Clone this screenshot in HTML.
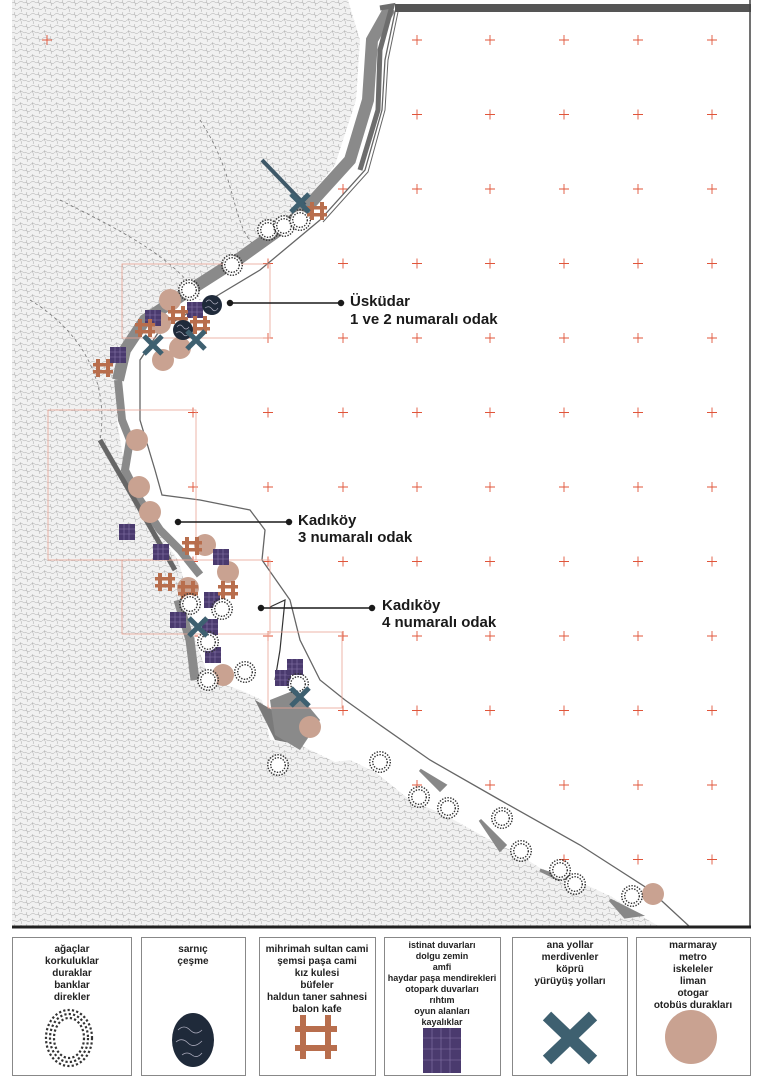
<!DOCTYPE html>
<html><head><meta charset="utf-8"><style>
html,body{margin:0;padding:0;background:#fff;width:763px;height:1079px;overflow:hidden}
svg{display:block}
.lab{font-family:"Liberation Sans",sans-serif;font-weight:bold;font-size:15px;fill:#1a1a1a}
.lg{font-family:"Liberation Sans",sans-serif;font-weight:bold;font-size:10px;fill:#222}
</style></head><body>
<svg width="763" height="1079" viewBox="0 0 763 1079" xmlns="http://www.w3.org/2000/svg">
<defs>
<pattern id="tex" width="12" height="12" patternUnits="userSpaceOnUse">
<rect width="12" height="12" fill="#f1f1f1"/>
<path d="M0 3 C2 1 4 5 6 3 S10 1 12 3 M0 9 C2 7 4 11 6 9 S10 7 12 9 M3 0 C1 2 5 4 3 6 M9 6 C7 8 11 10 9 12" stroke="#a8a8a8" stroke-width="0.5" fill="none"/>
</pattern>
<symbol id="ring" viewBox="-12 -12 24 24" overflow="visible"><circle r="9" fill="#fff"/><circle r="7.3" fill="none" stroke="#333" stroke-width="1.4" stroke-dasharray="1.4 1.4"/><circle r="10.3" fill="none" stroke="#333" stroke-width="1.4" stroke-dasharray="1.4 1.4"/></symbol>
<symbol id="pink" viewBox="-12 -12 24 24" overflow="visible"><circle r="11" fill="#c9a291"/></symbol>
<symbol id="cis" viewBox="-12 -12 24 24" overflow="visible"><circle r="10" fill="#1f2a3a"/><path d="M-6 -3 q3 -4 6 0 t6 0 M-7 3 q4 -3 7 1 t6 -1" stroke="#aab" stroke-width="0.7" fill="none"/></symbol>
<symbol id="mon" viewBox="-12 -12 24 24" overflow="visible"><g fill="#b86e4d"><rect x="-7" y="-9" width="4" height="18"/><rect x="3" y="-9" width="4" height="18"/><rect x="-10" y="-5" width="20" height="3.5"/><rect x="-10" y="2" width="20" height="3.5"/></g></symbol>
<symbol id="sq" viewBox="-12 -12 24 24" overflow="visible"><rect x="-8" y="-8" width="16" height="16" fill="#4a3a6e"/><path d="M-3 -8v16M2 -8v16M-8 -3h16M-8 2h16" stroke="#8877aa" stroke-width="0.6"/></symbol>
<symbol id="x" viewBox="-12 -12 24 24" overflow="visible"><path d="M-9 -9L9 9M9 -9L-9 9" stroke="#3e6070" stroke-width="5"/></symbol>
</defs>

<!-- red crosses -->
<g stroke="#e0553a" stroke-width="0.9" id="crosses">
<path d="M42 40h10M47 35v10M115 40h10M120 35v10M188 40h10M193 35v10M263 40h10M268 35v10M338 40h10M343 35v10M412 40h10M417 35v10M485 40h10M490 35v10M559 40h10M564 35v10M633 40h10M638 35v10M707 40h10M712 35v10"/>
</g>
<use href="#crosses" y="74.5"/><use href="#crosses" y="149"/><use href="#crosses" y="223.5"/><use href="#crosses" y="298"/><use href="#crosses" y="372.5"/><use href="#crosses" y="447"/><use href="#crosses" y="521.5"/><use href="#crosses" y="596"/><use href="#crosses" y="670.5"/><use href="#crosses" y="745"/><use href="#crosses" y="819.5"/>

<!-- land -->
<path d="M12 0 L348 0 L360 40 L356 100 L335 165 L290 220 L230 262 L175 295 L135 330 L118 370 L117 420 L125 470 L150 520 L178 560 L190 600 L195 640 L210 680 L240 690 L262 700 L270 740 L300 745 L335 762 L350 760 L375 772 L410 800 L445 815 L490 840 L515 852 L540 868 L580 882 L612 897 L645 918 L660 927 L12 927 Z" fill="url(#tex)"/>
<path d="M47 35v10M42 40h10" stroke="#e0553a" stroke-width="0.9"/>
<path d="M30 300 C80 330 110 380 100 440 M60 200 C120 230 180 260 200 300 M200 120 C240 180 230 230 260 250" stroke="#777" stroke-width="0.8" stroke-dasharray="3 3" fill="none"/>

<!-- coast band -->
<path d="M390 8 L372 40 L368 100 L350 160 L300 215 L240 258 L190 290 L145 320 L125 350 L118 380" stroke="#8a8a8a" stroke-width="12" fill="none"/>
<path d="M380 8 L392 6 L380 50 L378 110 L360 170" stroke="#6d6d6d" stroke-width="5" fill="none"/>
<path d="M118 380 L122 420 L130 440 L125 470 L140 500 L160 530 L180 550 L200 575" stroke="#8a8a8a" stroke-width="8" fill="none"/>
<path d="M100 440 L175 570" stroke="#666" stroke-width="5"/>
<path d="M262 160 L305 205" stroke="#3e5868" stroke-width="4"/>
<path d="M178 600 L190 640 L195 680" stroke="#8a8a8a" stroke-width="9" fill="none"/>
<path d="M255 700 L275 740 L300 745 L290 720 Z" fill="#7a7a7a"/>
<path d="M270 700 L295 690 L320 720 L300 750 L275 735Z" fill="#8a8a8a"/>
<path d="M420 770 L445 785 L440 790Z M480 820 L500 850 L505 845 Z M540 870 L560 880 L555 875Z M610 900 L640 915 L625 917Z" fill="#888" stroke="#888" stroke-width="3"/>

<!-- road line -->
<path d="M395 12 L385 60 L382 110 L365 170 L320 220 L260 270 L210 300 L160 330 L140 360 L140 420 L155 470 L162 495 L200 500 L250 510 L265 530 L262 560 L290 600 L300 640 L320 680 L345 700 L380 725 L430 760 L500 800 L580 845 L650 890 L690 927" stroke="#666" stroke-width="1.3" fill="none"/>
<path d="M398 12 L388 60 L385 110 L368 172 L323 222" stroke="#666" stroke-width="1" fill="none"/>
<path d="M270 607 L285 600 L280 650 L275 680" stroke="#333" stroke-width="1.2" fill="none"/>

<!-- red focus rectangles -->
<g stroke="#e9a393" stroke-width="0.8" fill="none">
<rect x="122" y="264" width="148" height="74"/>
<rect x="48" y="410" width="148" height="150"/>
<rect x="122" y="560" width="148" height="74"/>
<rect x="268" y="632" width="74" height="76"/>
</g>

<g id="syms">
<use href="#ring" x="256" y="218" width="24" height="24"/>
<use href="#ring" x="272" y="214" width="24" height="24"/>
<use href="#ring" x="288" y="208" width="24" height="24"/>
<use href="#ring" x="220" y="253" width="24" height="24"/>
<use href="#ring" x="177" y="278" width="24" height="24"/>
<use href="#mon" x="305" y="199" width="24" height="24"/>
<use href="#x" x="288" y="191" width="24" height="24"/>
<use href="#pink" x="158" y="288" width="24" height="24"/>
<use href="#pink" x="148" y="311" width="24" height="24"/>
<use href="#pink" x="168" y="336" width="24" height="24"/>
<use href="#pink" x="151" y="348" width="24" height="24"/>
<use href="#sq" x="141" y="306" width="24" height="24"/>
<use href="#sq" x="183" y="298" width="24" height="24"/>
<use href="#sq" x="106" y="343" width="24" height="24"/>
<use href="#mon" x="133" y="316" width="24" height="24"/>
<use href="#mon" x="166" y="303" width="24" height="24"/>
<use href="#mon" x="188" y="313" width="24" height="24"/>
<use href="#mon" x="91" y="356" width="24" height="24"/>
<use href="#cis" x="200" y="293" width="24" height="24"/>
<use href="#cis" x="171" y="318" width="24" height="24"/>
<use href="#x" x="141" y="333" width="24" height="24"/>
<use href="#x" x="184" y="328" width="24" height="24"/>

<use href="#pink" x="125" y="428" width="24" height="24"/>
<use href="#pink" x="127" y="475" width="24" height="24"/>
<use href="#pink" x="138" y="500" width="24" height="24"/>
<use href="#pink" x="193" y="533" width="24" height="24"/>
<use href="#pink" x="216" y="560" width="24" height="24"/>
<use href="#pink" x="176" y="576" width="24" height="24"/>
<use href="#pink" x="211" y="663" width="24" height="24"/>
<use href="#pink" x="298" y="715" width="24" height="24"/>
<use href="#pink" x="641" y="882" width="24" height="24"/>
<use href="#sq" x="115" y="520" width="24" height="24"/>
<use href="#sq" x="149" y="540" width="24" height="24"/>
<use href="#sq" x="209" y="545" width="24" height="24"/>
<use href="#sq" x="200" y="588" width="24" height="24"/>
<use href="#sq" x="166" y="608" width="24" height="24"/>
<use href="#sq" x="198" y="615" width="24" height="24"/>
<use href="#sq" x="201" y="643" width="24" height="24"/>
<use href="#sq" x="271" y="666" width="24" height="24"/>
<use href="#sq" x="283" y="655" width="24" height="24"/>
<use href="#mon" x="180" y="534" width="24" height="24"/>
<use href="#mon" x="153" y="570" width="24" height="24"/>
<use href="#mon" x="176" y="578" width="24" height="24"/>
<use href="#mon" x="216" y="578" width="24" height="24"/>
<use href="#ring" x="178" y="592" width="24" height="24"/>
<use href="#ring" x="210" y="597" width="24" height="24"/>
<use href="#ring" x="196" y="630" width="24" height="24"/>
<use href="#ring" x="196" y="668" width="24" height="24"/>
<use href="#ring" x="233" y="660" width="24" height="24"/>
<use href="#ring" x="286" y="672" width="24" height="24"/>
<use href="#x" x="186" y="615" width="24" height="24"/>
<use href="#x" x="288" y="685" width="24" height="24"/>
<use href="#ring" x="266" y="753" width="24" height="24"/>
<use href="#ring" x="368" y="750" width="24" height="24"/>
<use href="#ring" x="407" y="785" width="24" height="24"/>
<use href="#ring" x="436" y="796" width="24" height="24"/>
<use href="#ring" x="490" y="806" width="24" height="24"/>
<use href="#ring" x="509" y="839" width="24" height="24"/>
<use href="#ring" x="548" y="858" width="24" height="24"/>
<use href="#ring" x="563" y="872" width="24" height="24"/>
<use href="#ring" x="620" y="884" width="24" height="24"/>
</g>

<!-- labels -->
<g stroke="#1a1a1a" stroke-width="1.5" fill="#1a1a1a">
<line x1="230" y1="303" x2="341" y2="303"/><circle cx="230" cy="303" r="2.5"/><circle cx="341" cy="303" r="2.5"/>
<line x1="178" y1="522" x2="289" y2="522"/><circle cx="178" cy="522" r="2.5"/><circle cx="289" cy="522" r="2.5"/>
<line x1="261" y1="608" x2="372" y2="608"/><circle cx="261" cy="608" r="2.5"/><circle cx="372" cy="608" r="2.5"/>
</g>
<text class="lab" x="350" y="306">Üsküdar</text>
<text class="lab" x="350" y="324">1 ve 2 numaralı odak</text>
<text class="lab" x="298" y="525">Kadıköy</text>
<text class="lab" x="298" y="542">3 numaralı odak</text>
<text class="lab" x="382" y="610">Kadıköy</text>
<text class="lab" x="382" y="627">4 numaralı odak</text>

<!-- frame -->
<rect x="395" y="4" width="356" height="8" fill="#555"/>
<line x1="750" y1="0" x2="750" y2="928" stroke="#444" stroke-width="1.5"/>
<line x1="12" y1="927" x2="751" y2="927" stroke="#222" stroke-width="3"/>

<!-- legend -->
<g fill="#fff" stroke="#888" stroke-width="1">
<rect x="12.5" y="937.5" width="119" height="138"/>
<rect x="141.5" y="937.5" width="104" height="138"/>
<rect x="259.5" y="937.5" width="116" height="138"/>
<rect x="384.5" y="937.5" width="116" height="138"/>
<rect x="512.5" y="937.5" width="115" height="138"/>
<rect x="636.5" y="937.5" width="114" height="138"/>
</g>
<g class="lg" text-anchor="middle">
<text x="72" y="952">ağaçlar</text><text x="72" y="964">korkuluklar</text><text x="72" y="976">duraklar</text><text x="72" y="988">banklar</text><text x="72" y="1000">direkler</text>
<text x="193" y="952">sarnıç</text><text x="193" y="964">çeşme</text>
<text x="317" y="952">mihrimah sultan cami</text><text x="317" y="964">şemsi paşa cami</text><text x="317" y="976">kız kulesi</text><text x="317" y="988">büfeler</text><text x="317" y="1000">haldun taner sahnesi</text><text x="317" y="1012">balon kafe</text>
<g style="font-size:9px"><text x="442" y="948">istinat duvarları</text><text x="442" y="959">dolgu zemin</text><text x="442" y="970">amfi</text><text x="442" y="981">haydar paşa mendirekleri</text><text x="442" y="992">otopark duvarları</text><text x="442" y="1003">rıhtım</text><text x="442" y="1014">oyun alanları</text><text x="442" y="1025">kayalıklar</text></g>
<text x="570" y="948">ana yollar</text><text x="570" y="960">merdivenler</text><text x="570" y="972">köprü</text><text x="570" y="984">yürüyüş yolları</text>
<text x="693" y="948">marmaray</text><text x="693" y="960">metro</text><text x="693" y="972">iskeleler</text><text x="693" y="984">liman</text><text x="693" y="996">otogar</text><text x="693" y="1008">otobüs durakları</text>
</g>
<g fill="none" stroke="#333" stroke-width="2.2" stroke-dasharray="2.2 2.2">
<ellipse cx="69" cy="1038" rx="15" ry="20"/>
<ellipse cx="69" cy="1038" rx="19" ry="24"/>
<ellipse cx="69" cy="1038" rx="23" ry="28"/>
</g>
<ellipse cx="193" cy="1040" rx="21" ry="27" fill="#1f2a3a"/>
<path d="M178 1030 q6 -6 12 0 t12 0 M176 1042 q6 -5 12 1 t14 -2 M182 1055 q5 -4 10 0 t10 -2" stroke="#aab" stroke-width="0.8" fill="none"/>
<g fill="#b86e4d"><rect x="300" y="1015" width="6" height="44"/><rect x="325" y="1015" width="6" height="44"/><rect x="295" y="1026" width="42" height="6"/><rect x="295" y="1045" width="42" height="6"/></g>
<rect x="423" y="1028" width="38" height="45" fill="#4a3a6e"/>
<path d="M432 1028v45M441 1028v45M450 1028v45M423 1038h38M423 1049h38M423 1060h38" stroke="#8877aa" stroke-width="0.6"/>
<path d="M547 1016L593 1060M593 1016L547 1060" stroke="#3e6070" stroke-width="12"/>
<ellipse cx="691" cy="1037" rx="26" ry="27" fill="#c9a291"/>
</svg>
</body></html>
